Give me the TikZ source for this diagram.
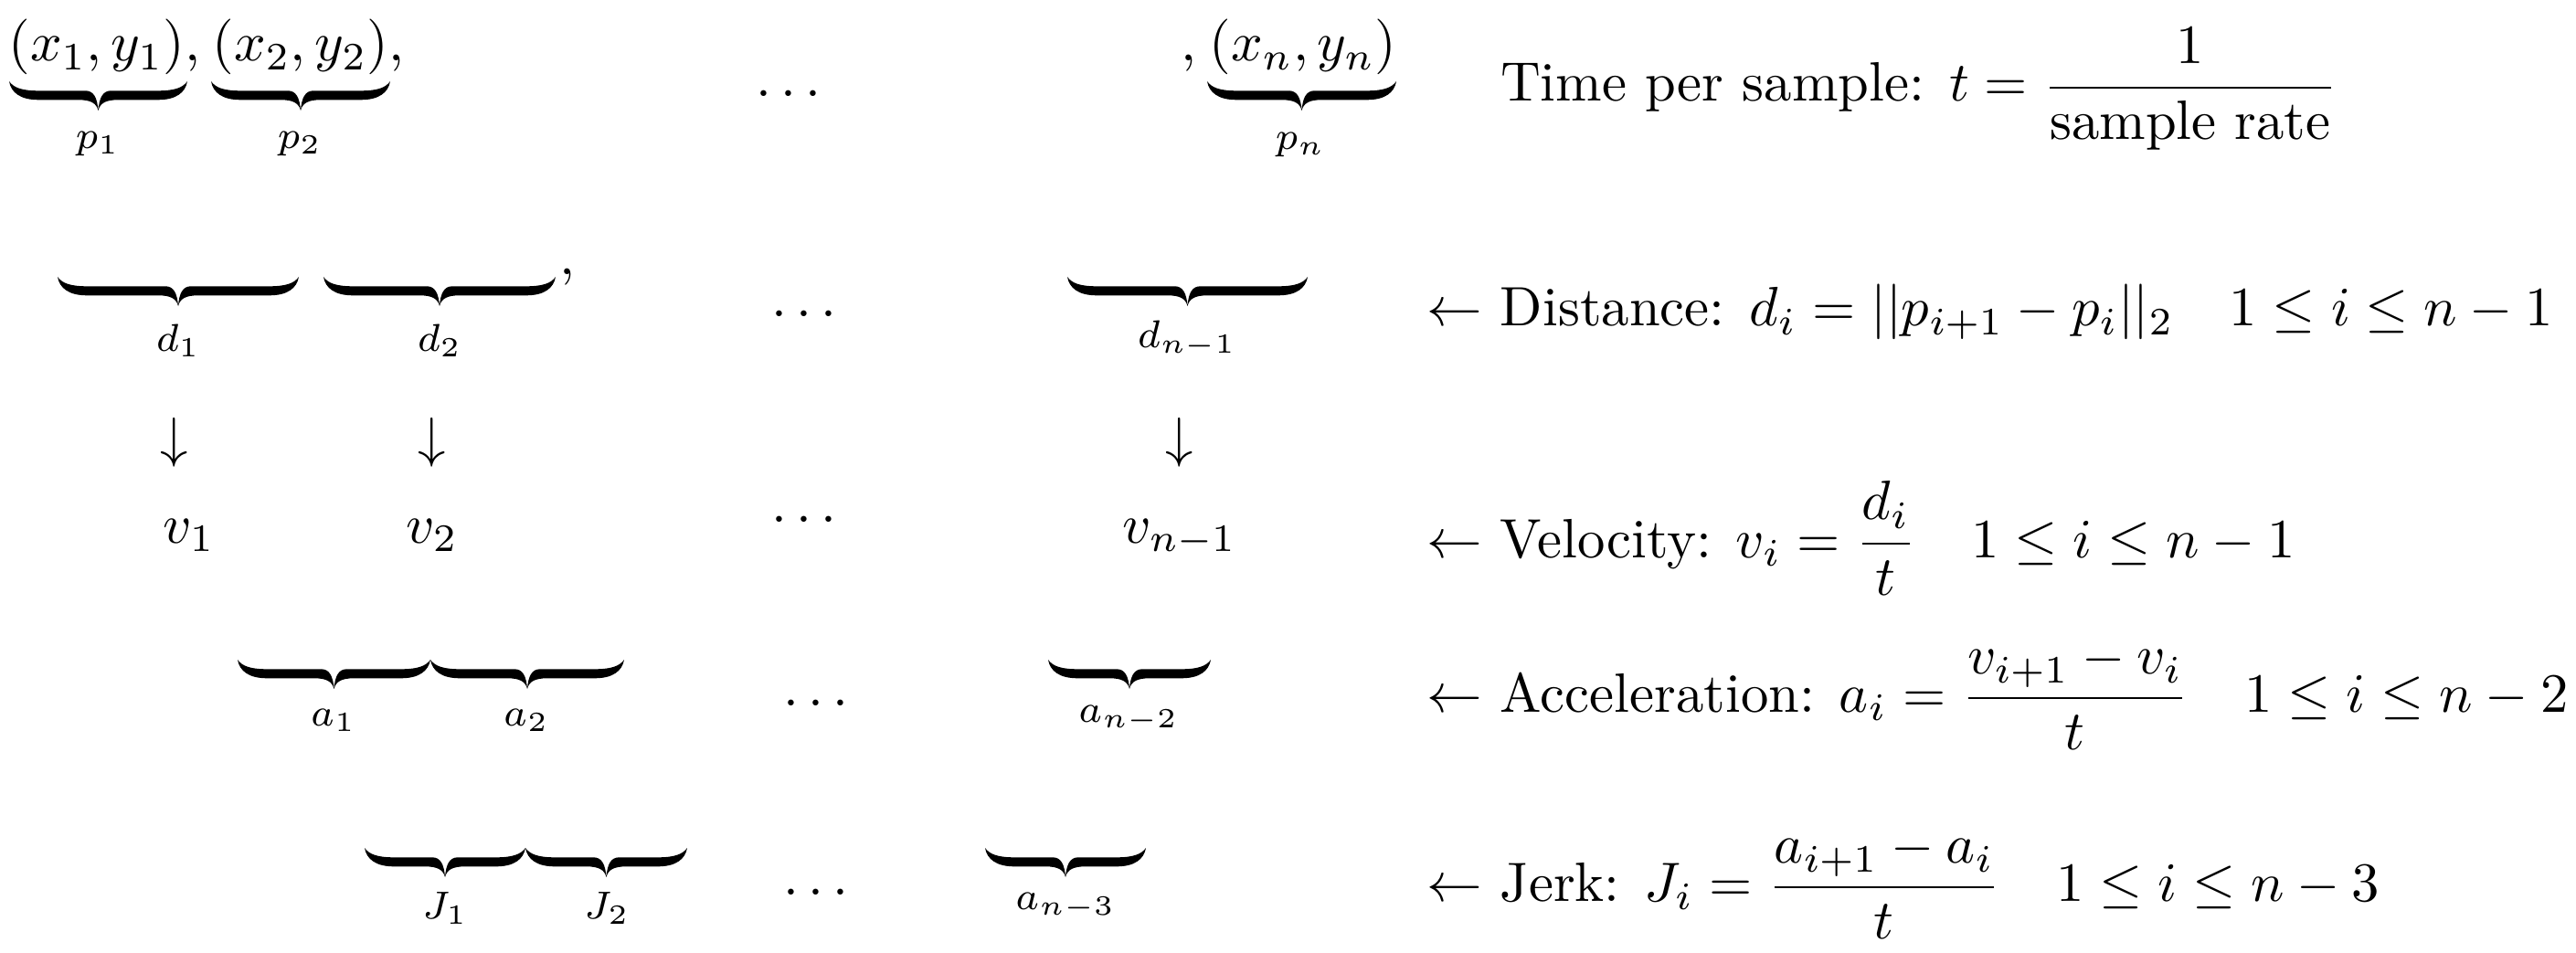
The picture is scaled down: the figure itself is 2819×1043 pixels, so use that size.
\documentclass[tikz,border=0pt]{standalone}
\usepackage{amsmath}
\newcommand{\ubrace}[3]{%
  \pgfmathsetmacro{\bL}{#1}%
  \pgfmathsetmacro{\bR}{#2}%
  \pgfmathsetmacro{\bM}{(#1+#2)/2}%
  \fill[shift={(0,#3)}] (\bL,0) .. controls (\bL+5,7) and (\bL+14,10.3) .. (\bL+32,10.3)
    -- (\bM-14,10.3) .. controls (\bM-5,10.3) and (\bM-1,18) .. (\bM,32)
    .. controls (\bM+1,18) and (\bM+5,10.3) .. (\bM+14,10.3)
    -- (\bR-32,10.3) .. controls (\bR-14,10.3) and (\bR-5,7) .. (\bR,0)
    .. controls (\bR-2,12) and (\bR-12,20.3) .. (\bR-32,20.3)
    -- (\bM+22,20.3) .. controls (\bM+8,20.3) and (\bM+2,24) .. (\bM,32)
    .. controls (\bM-2,24) and (\bM-8,20.3) .. (\bM-22,20.3)
    -- (\bL+32,20.3) .. controls (\bL+12,20.3) and (\bL+2,12) .. (\bL,0) -- cycle;}
\begin{document}
\begin{tikzpicture}[x=0.164745pt,y=-0.164745pt,
  every node/.style={inner sep=0pt,outer sep=0pt},
  lbl/.style={anchor=center},
  pt/.style={anchor=base},
  dts/.style={anchor=center},
  arr/.style={anchor=center},
  vv/.style={anchor=base},
  rt/.style={anchor=base west}]
\useasboundingbox (0,0) rectangle (2819,1043);
% row 1: points
\node[pt] (p1t) at (106,67) {$(x_1, y_1)$\rlap{,}};
\node[pt] (p2t) at (329,67) {$(x_2, y_2)$\rlap{,}};
\node[dts] (dot1) at (868,104) {$\cdots$};
\node[pt] (pnt) at (1426,67) {\llap{,\hspace{2.3pt}}$(x_n, y_n)$};
\ubrace{10}{205}{89}
\ubrace{231}{427}{89}
\ubrace{1321}{1528}{89}
\node[lbl] (p1) at (107,157) {$\scriptstyle p_1$};
\node[lbl] (p2) at (328,157) {$\scriptstyle p_2$};
\node[lbl] (pn) at (1423,158) {$\scriptstyle p_n$};
% row 2: distances
\ubrace{63}{327}{303}
\ubrace{354}{608}{303}
\ubrace{1168}{1431}{303}
\node[anchor=base west] (c2) at (612,300) {,};
\node[lbl] (d1) at (195,373) {$\scriptstyle d_1$};
\node[lbl] (d2) at (481,373) {$\scriptstyle d_2$};
\node[lbl] (dn) at (1299,371) {$\scriptstyle d_{n-1}$};
\node[dts] (dot2) at (885,345) {$\cdots$};
% row 3: velocities
\node[arr] (ar1) at (191,484) {$\downarrow$};
\node[arr] (ar2) at (473,484) {$\downarrow$};
\node[arr] (arn) at (1291,484) {$\downarrow$};
\node[vv] (v1) at (207,594) {$v_1$};
\node[vv] (v2) at (473,594) {$v_2$};
\node[dts] (dot3) at (885,570) {$\cdots$};
\node[vv] (vn) at (1291,594) {$v_{n-1}$};
% row 4: accelerations
\ubrace{260}{471}{722}
\ubrace{471}{683}{722}
\ubrace{1147}{1325}{722}
\node[lbl] (a1) at (365,788) {$\scriptstyle a_1$};
\node[lbl] (a2) at (576,788) {$\scriptstyle a_2$};
\node[lbl] (an) at (1235,787) {$\scriptstyle a_{n-2}$};
\node[dts] (dot4) at (898,771) {$\cdots$};
% row 5: jerks
\ubrace{399}{575}{928}
\ubrace{575}{752}{928}
\ubrace{1078}{1254}{928}
\node[lbl] (j1) at (487,994) {$\scriptstyle J_1$};
\node[lbl] (j2) at (664,994) {$\scriptstyle J_2$};
\node[lbl] (jn) at (1166,992) {$\scriptstyle a_{n-3}$};
\node[dts] (dot5) at (898,978) {$\cdots$};
% right column
\node[rt] (time) at (1642,111) {Time per sample: $t=\dfrac{1}{\text{sample rate}}$};
\node[rt] (dist) at (1561,357) {$\leftarrow$ Distance: $d_i=||p_{i+1}-p_i||_2$\quad$1\leq i\leq n-1$};
\node[rt] (vel) at (1561,610) {$\leftarrow$ Velocity: $v_i=\dfrac{d_i}{t}$\quad$1\leq i\leq n-1$};
\node[rt] (acc) at (1561,779) {$\leftarrow$ Acceleration: $a_i=\dfrac{v_{i+1}-v_i}{t}$\quad$1\leq i\leq n-2$};
\node[rt] (jerk) at (1561,986) {$\leftarrow$ Jerk: $J_i=\dfrac{a_{i+1}-a_i}{t}$\quad$1\leq i\leq n-3$};
\end{tikzpicture}
\end{document}
